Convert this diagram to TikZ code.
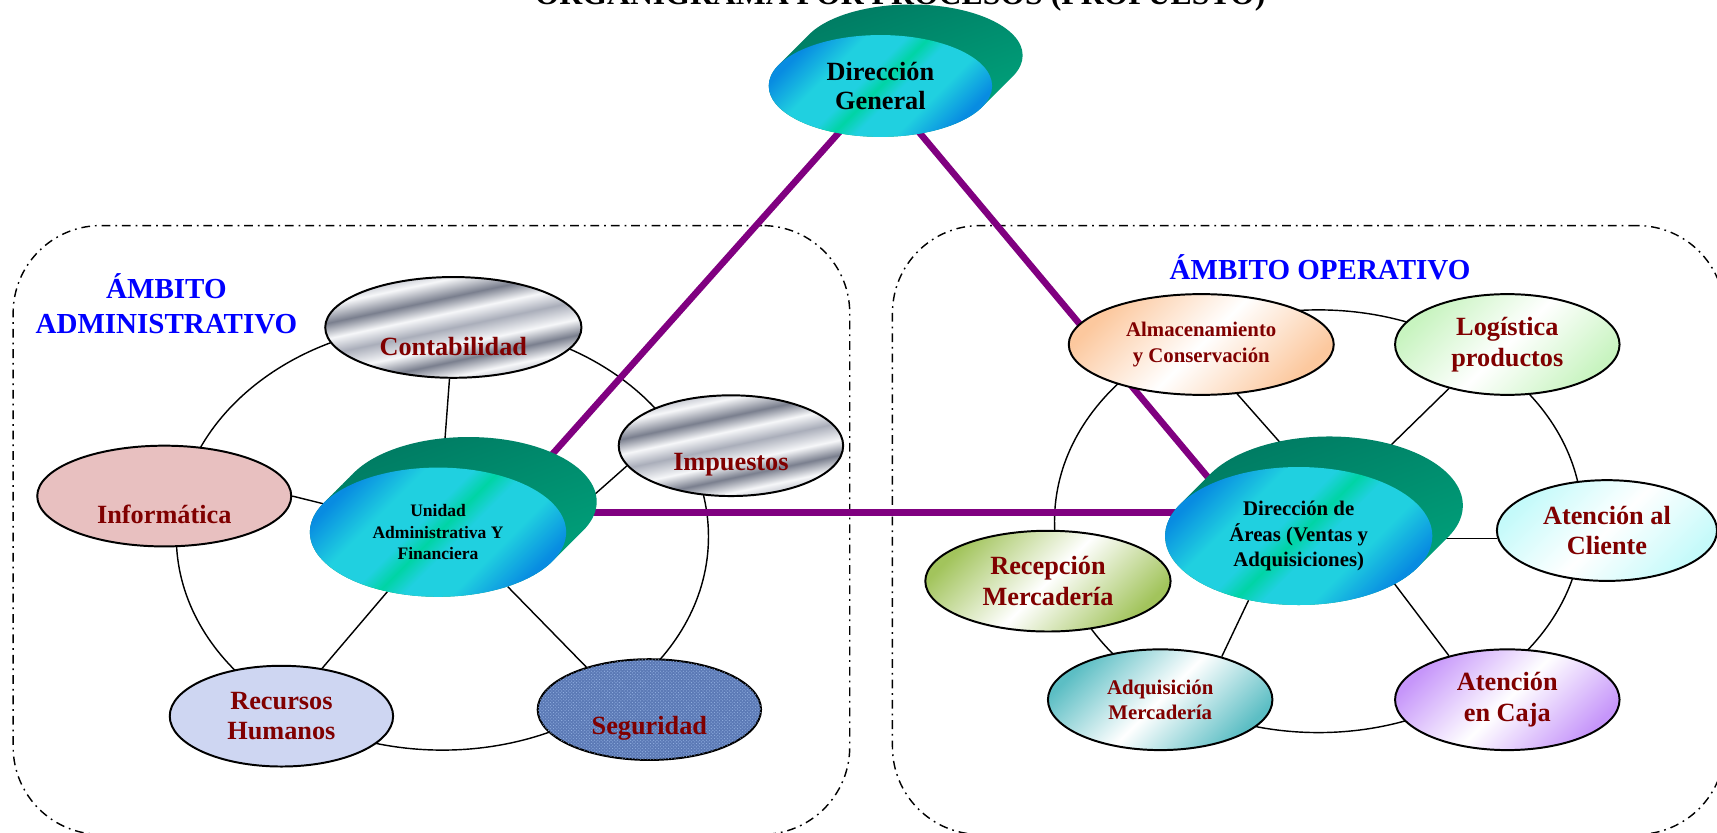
\documentclass[tikz,border=0pt]{standalone}
\usepackage{fontspec}
\setmainfont{Liberation Serif}
\usetikzlibrary{calc, backgrounds, shapes.geometric, patterns}
\usepackage{xcolor}
\definecolor{myblue}{RGB}{0,0,255}
\definecolor{mymaroon}{RGB}{128,0,0}
\definecolor{mypurple}{RGB}{128,0,128}
\definecolor{discblue}{RGB}{8,140,225}
\definecolor{disccyan}{RGB}{32,208,224}
\definecolor{discgreen}{RGB}{0,212,165}
\definecolor{discdark}{RGB}{0,122,98}
\definecolor{disclight}{RGB}{0,165,125}
\definecolor{metallight}{RGB}{246,247,249}
\definecolor{metalmid}{RGB}{170,174,186}
\definecolor{metaldark}{RGB}{122,127,142}
\definecolor{mypink}{RGB}{232,192,192}
\definecolor{mylilac}{RGB}{206,214,242}
\definecolor{mydenim}{RGB}{92,122,182}
\definecolor{mydenimlight}{RGB}{150,180,228}
\definecolor{mypeach}{RGB}{252,200,158}
\definecolor{myolive}{RGB}{162,196,92}
\definecolor{myteal}{RGB}{92,190,196}
\definecolor{mycyan}{RGB}{196,250,250}
\definecolor{mymint}{RGB}{200,244,192}
\definecolor{mylavender}{RGB}{198,150,250}
\pgfdeclarehorizontalshading{discfront}{100bp}{color(0bp)=(discblue); color(25bp)=(discblue);
  color(36bp)=(disccyan); color(45bp)=(disccyan); color(50bp)=(discgreen); color(55bp)=(disccyan);
  color(64bp)=(disccyan); color(75bp)=(discblue); color(100bp)=(discblue)}
\pgfdeclarehorizontalshading{metal}{100bp}{color(0bp)=(metalmid); color(25bp)=(metalmid);
  color(31bp)=(metallight); color(38bp)=(metaldark); color(44bp)=(metallight); color(50bp)=(metalmid);
  color(57bp)=(metallight); color(63bp)=(metaldark); color(69bp)=(metallight); color(75bp)=(metalmid);
  color(100bp)=(metalmid)}
\tikzset{
  amb box/.style={draw, line width=1.3pt, dash pattern=on 8pt off 4.5pt on 1.6pt off 4.5pt,
    rounded corners=80pt, inner sep=0pt},
  amb label/.style={font=\bfseries\fontsize{26.5}{32}\selectfont, text=myblue, align=center},
  head title/.style={font=\bfseries\fontsize{29}{34}\selectfont},
  unit/.style={ellipse, draw, line width=1.8pt, inner sep=0pt},
  chrome/.style={unit, shade, shading=metal, shading angle=-78},
  soft/.style={unit, top color=#1, bottom color=#1, middle color=white, shading angle=45},
  ring/.style={ellipse, draw, line width=1.3pt, inner sep=0pt},
  spoke/.style={line width=1.3pt},
  tri/.style={line width=6pt, mypurple, line join=round},
  big text/.style={font=\bfseries\fontsize{24}{28}\selectfont, text=mymaroon, align=center},
  small text/.style={font=\bfseries\fontsize{19}{23}\selectfont, text=mymaroon, align=center},
  disc back/.style={top color=discdark, bottom color=disclight, shading angle=20},
  disc front/.style={ellipse, inner sep=0pt, shade, shading=discfront, shading angle=-45, align=center}
}
\begin{document}
\begin{tikzpicture}[x=1pt,y=-1pt]
  \useasboundingbox (0,0) rectangle (1568,760);

  % --- TITLE (cut by the top edge) ---
  \node[head title, anchor=base] (title) at (822,4) {ORGANIGRAMA POR PROCESOS (PROPUESTO)};

  % --- DISCS: DIRECCION GENERAL, UNIDAD, DIRECCION DE AREAS ---
  \foreach \n/\x/\y/\rx/\ry/\fs/\bs/\txt in {
      dg/804/78.5/102/46.5/24/27/{Dirección\\General},
      uaf/400/486/117/59/16/19.5/{Unidad\\Administrativa Y\\Financiera},
      da/1186/489.5/122/63/19/23/{Dirección de\\Áreas (Ventas y\\Adquisiciones)}} {
    \shade[disc back] \foreach \s in {0,0.1,...,1} {(\x+31*\s, \y-31*\s) ellipse [x radius=\rx, y radius=\ry]};
    \node[disc front, minimum width=2*\rx, minimum height=2*\ry,
      font=\bfseries\fontsize{\fs}{\bs}\selectfont] (\n) at (\x,\y) {\txt};
  }
  \coordinate (da-back) at (1217,458.5);
  \coordinate (adm-hub) at (457,468);
  \coordinate (ope-hub) at (1130,468);

  % --- AMBITO ADMINISTRATIVO ---
  \node[amb label] (adm-label) at (152,277) {ÁMBITO\\ADMINISTRATIVO};
  \node[chrome, minimum width=234, minimum height=92] (conta) at (414,299) {};
  \node[big text] at ([yshift=-17pt]conta.center) {Contabilidad};
  \node[chrome, minimum width=205, minimum height=92] (imp) at (667.5,407) {};
  \node[big text] at ([yshift=-17pt]imp.center) {Impuestos};
  \node[unit, fill=mypink, minimum width=232, minimum height=92] (inf) at (150,453) {};
  \node[big text] at ([yshift=-17pt]inf.center) {Informática};
  \node[unit, fill=mylilac, minimum width=204, minimum height=92, big text] (rrhh) at (257,654) {Recursos\\Humanos};
  \node[unit, fill=mydenim, postaction={pattern=crosshatch dots, pattern color=mydenimlight},
    minimum width=204, minimum height=92] (seg) at (593,648) {};
  \node[big text] at ([yshift=-17pt]seg.center) {Seguridad};

  % --- AMBITO OPERATIVO ---
  \node[amb label, anchor=base] (ope-label) at (1205.5,255) {ÁMBITO OPERATIVO};
  \node[soft=mypeach, minimum width=242, minimum height=92, small text] (alm) at (1097,314.6) {Almacenamiento\\y Conservación};
  \node[soft=mymint, minimum width=205, minimum height=92, big text] (log) at (1376.5,314.6) {Logística\\productos};
  \node[soft=myolive, minimum width=224, minimum height=92, big text] (rec) at (957,530.7) {Recepción\\Mercadería};
  \node[soft=myteal, minimum width=205, minimum height=92, small text] (adq) at (1059.5,639) {Adquisición\\Mercadería};
  \node[soft=mycyan, minimum width=201, minimum height=92, big text] (atcli) at (1467.5,484.5) {Atención al\\Cliente};
  \node[soft=mylavender, minimum width=205, minimum height=92, big text] (atcaja) at (1376.5,639) {Atención\\en Caja};

  % --- BEHIND THE NODES: boxes, rings, spokes, triangle ---
  \begin{pgfonlayer}{background}
    \node[amb box, minimum width=764, minimum height=556] (adm-box) at (394,484) {};
    \node[amb box, minimum width=760, minimum height=556] (ope-box) at (1195,484) {};
    \node[ring, minimum width=486, minimum height=390] (adm-ring) at (404,490) {};
    \node[ring, minimum width=482, minimum height=386] (ope-ring) at (1204,476) {};

    \draw[spoke] (conta) -- (uaf);
    \draw[spoke] (inf.east) -- (uaf);
    \draw[spoke] (imp.191) -- (uaf.5);
    \draw[spoke] (rrhh) -- (uaf);
    \draw[spoke] (seg.146) -- (uaf.-38);

    \draw[spoke] (alm.-54) -- (da-back);
    \draw[spoke] (log.217) -- (da-back);
    \draw[spoke] (atcli.184) -- (atcli.184 -| da.center);
    \draw[spoke] (atcaja.143) -- (da-back);
    \draw[spoke] (adq.35) -- (da.-128);

    \draw[tri] (dg.center) -- (adm-hub) -- (ope-hub) -- cycle;
  \end{pgfonlayer}
\end{tikzpicture}
\end{document}
